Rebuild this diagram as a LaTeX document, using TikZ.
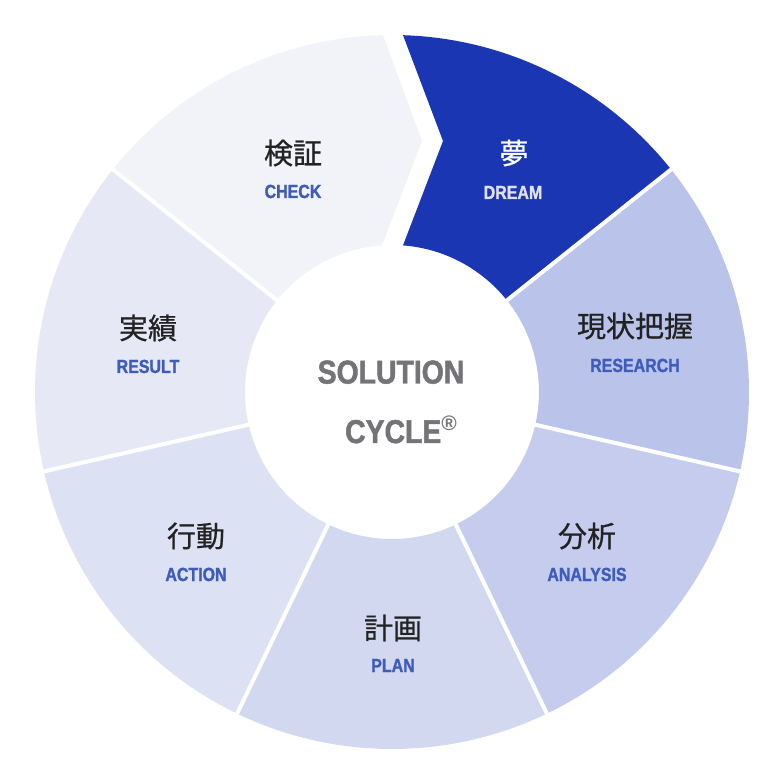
\documentclass[tikz,border=0pt]{standalone}
\usepackage{fontspec}
\newfontfamily\jpfont[FakeBold=0.7]{Noto Sans CJK JP}
\newfontfamily\enfont[FakeStretch=0.84,FakeBold=1.3]{Liberation Sans}
\newfontfamily\centerfont[FakeStretch=0.86,FakeBold=1.5]{Liberation Sans}
\newfontfamily\regfont{Liberation Sans}
\definecolor{cCheck}{HTML}{F2F3F9}
\definecolor{cResult}{HTML}{E6E8F6}
\definecolor{cAction}{HTML}{DDE1F4}
\definecolor{cPlan}{HTML}{D3D8F1}
\definecolor{cAnalysis}{HTML}{C6CCED}
\definecolor{cResearch}{HTML}{BAC3E9}
\definecolor{cDream}{HTML}{1B36B2}
\definecolor{cLabel}{HTML}{3E5CBB}
\definecolor{cDreamLabel}{HTML}{DFE1EE}
\definecolor{cCenter}{HTML}{747478}
\definecolor{cJp}{HTML}{222222}
\tikzset{
  jplabel/.style={inner sep=0pt, anchor=center, text=cJp, font=\jpfont\fontsize{29}{30}\selectfont},
  enlabel/.style={inner sep=0pt, anchor=base, text=cLabel, font=\enfont\bfseries\fontsize{19}{20}\selectfont},
  centertext/.style={inner sep=0pt, anchor=base, text=cCenter, font=\centerfont\bfseries\fontsize{33}{34}\selectfont},
  sepline/.style={white, line width=4pt}
}
\begin{document}
\begin{tikzpicture}[x=1pt,y=1pt]
\useasboundingbox[fill=white] (-392,-392) rectangle (392,392);
\def\Ro{357}
\def\Ri{147}
% ring segments
\fill[cDream] (88.23:\Ro) arc[start angle=88.23, end angle=38.571, radius=\Ro]
  -- (38.571:\Ri) arc[start angle=38.571, end angle=85.71, radius=\Ri] -- (51,251) -- cycle;
\fill[cResearch] (38.571:\Ro) arc[start angle=38.571, end angle=-12.857, radius=\Ro]
  -- (-12.857:\Ri) arc[start angle=-12.857, end angle=38.571, radius=\Ri] -- cycle;
\fill[cAnalysis] (-12.857:\Ro) arc[start angle=-12.857, end angle=-64.286, radius=\Ro]
  -- (-64.286:\Ri) arc[start angle=-64.286, end angle=-12.857, radius=\Ri] -- cycle;
\fill[cPlan] (-64.286:\Ro) arc[start angle=-64.286, end angle=-115.714, radius=\Ro]
  -- (-115.714:\Ri) arc[start angle=-115.714, end angle=-64.286, radius=\Ri] -- cycle;
\fill[cAction] (-115.714:\Ro) arc[start angle=-115.714, end angle=-167.143, radius=\Ro]
  -- (-167.143:\Ri) arc[start angle=-167.143, end angle=-115.714, radius=\Ri] -- cycle;
\fill[cResult] (192.857:\Ro) arc[start angle=192.857, end angle=141.429, radius=\Ro]
  -- (141.429:\Ri) arc[start angle=141.429, end angle=192.857, radius=\Ri] -- cycle;
\fill[cCheck] (91.44:\Ro) arc[start angle=91.44, end angle=141.429, radius=\Ro]
  -- (141.429:\Ri) arc[start angle=141.429, end angle=93.9, radius=\Ri] -- (30,251) -- cycle;
% separators
\foreach \a in {38.571,-12.857,-64.286,-115.714,-167.143,141.429}
  \draw[sepline] (\a:\Ri-3) -- (\a:\Ro+3);
% labels
\node[jplabel] (jcheck) at (-99,239) {検証};
\node[enlabel] (echeck) at (-99,194) {CHECK};
\node[jplabel, text=white] (jdream) at (122,239) {夢};
\node[enlabel, text=cDreamLabel] (edream) at (121,193) {DREAM};
\node[jplabel] (jresearch) at (243,66) {現状把握};
\node[enlabel] (eresearch) at (243,20) {RESEARCH};
\node[jplabel] (jresult) at (-244,64) {実績};
\node[enlabel] (eresult) at (-244,19) {RESULT};
\node[jplabel] (janalysis) at (195,-144) {分析};
\node[enlabel] (eanalysis) at (195,-189) {ANALYSIS};
\node[jplabel] (jaction) at (-196,-144) {行動};
\node[enlabel] (eaction) at (-196,-189) {ACTION};
\node[jplabel] (jplan) at (1,-236) {計画};
\node[enlabel] (eplan) at (1,-280) {PLAN};
% center
\node[centertext] (sol) at (-1,8.5) {SOLUTION};
\node[centertext] (cyc) at (9,-51) {CYCLE\raisebox{12pt}{\regfont\fontsize{21}{21}\selectfont ®}};
\end{tikzpicture}
\end{document}
